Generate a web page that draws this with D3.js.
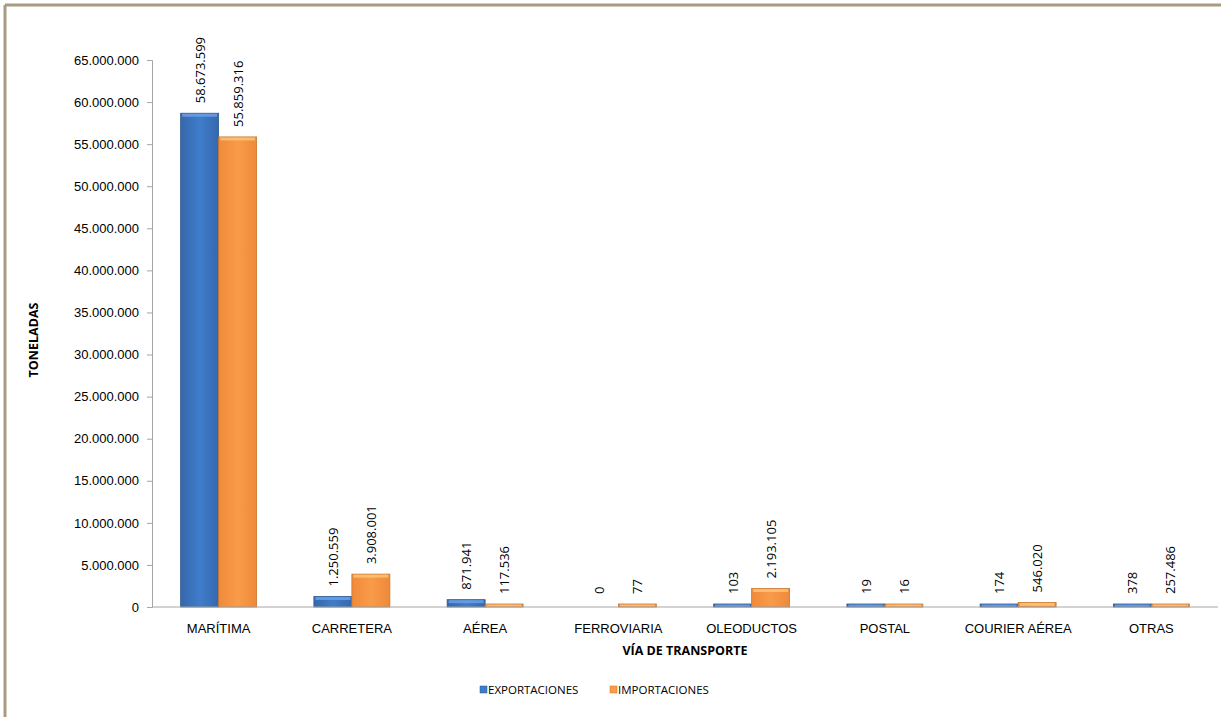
<!DOCTYPE html>
<html>
<head>
<meta charset="utf-8">
<script src="https://cdn.jsdelivr.net/npm/d3@7"></script>
<style>
  body { margin: 0; background: #fff; }
  svg { font-family: "Open Sans", "Liberation Sans", sans-serif; }
</style>
</head>
<body>
<div id="chart"></div>
<script>
// data
var categories = ["MARÍTIMA", "CARRETERA", "AÉREA", "FERROVIARIA", "OLEODUCTOS", "POSTAL", "COURIER AÉREA", "OTRAS"];
var exportaciones = [58673599, 1250559, 871941, 0, 103, 19, 174, 378];
var importaciones = [55859316, 3908001, 117536, 77, 2193105, 16, 546020, 257486];
var seriesNames = ["EXPORTACIONES", "IMPORTACIONES"];
var yTicks = [0, 5000000, 10000000, 15000000, 20000000, 25000000, 30000000, 35000000, 40000000, 45000000, 50000000, 55000000, 60000000, 65000000];

var W = 1221, H = 717;
var margin = {top: 60, right: 3, bottom: 110, left: 152};
var width = W - margin.left - margin.right,
    height = H - margin.top - margin.bottom;

var svg = d3.select("#chart").append("svg")
  .attr("width", W).attr("height", H);

// frame of the chart (only top and left visible)
svg.append("line").attr("x1", 5).attr("x2", W).attr("y1", 5).attr("y2", 5)
  .attr("stroke", "#A89C80").attr("stroke-width", 3);
svg.append("line").attr("x1", 5).attr("x2", 5).attr("y1", 5).attr("y2", H)
  .attr("stroke", "#A89C80").attr("stroke-width", 3);

var defs = svg.append("defs");
function grad(id, c1, c2, c3) {
  var g = defs.append("linearGradient").attr("id", id)
    .attr("x1", "0").attr("x2", "1").attr("y1", "0").attr("y2", "0");
  g.append("stop").attr("offset", "0%").attr("stop-color", c1);
  g.append("stop").attr("offset", "50%").attr("stop-color", c2);
  g.append("stop").attr("offset", "100%").attr("stop-color", c3);
}
grad("gBlue", "#3567AA", "#3F7DCB", "#3468AE");
grad("gOrange", "#F08A3A", "#F99B4A", "#EE8A3A");
var colors = ["url(#gBlue)", "url(#gOrange)"];
var strokes = ["#2C5790", "#C8762E"];
var tops = ["#6FA3E6", "#FFC67A"];
var legendColors = ["#3F7DCB", "#F99B4A"];

var g = svg.append("g").attr("transform", "translate(" + margin.left + "," + margin.top + ")");

var x = d3.scaleBand().domain(categories).range([0, width]).paddingInner(0.43).paddingOuter(0.215);
var x1 = d3.scaleBand().domain([0, 1]).range([0, x.bandwidth()]);
var y = d3.scaleLinear().domain([0, 65000000]).range([height, 0]);

var fmt = function(v) { return d3.format(",")(v).replace(/,/g, "."); };

// y axis
var yAx = g.append("g")
  .call(d3.axisLeft(y).tickValues(yTicks).tickFormat(fmt).tickSize(5).tickPadding(8));
yAx.select(".domain").attr("stroke", "#A6A6A6");
yAx.selectAll(".tick line").attr("stroke", "#A6A6A6");
yAx.selectAll("text").style("font-size", "13px").attr("fill", "#000");

// bars
var data = categories.map(function(c, i) {
  return {cat: c, vals: [exportaciones[i], importaciones[i]]};
});
var groups = g.selectAll(".grp").data(data).enter().append("g")
  .attr("transform", function(d) { return "translate(" + x(d.cat) + ",0)"; });

groups.each(function(d) {
  var sel = d3.select(this);
  d.vals.forEach(function(v, s) {
    var yt = y(v);
    var h = height - yt;
    if (v > 0 && h < 3) { h = 3; yt = height - 3; }
    if (v > 0) {
      sel.append("rect")
        .attr("x", x1(s)).attr("y", yt)
        .attr("width", x1.bandwidth()).attr("height", h)
        .attr("fill", colors[s]).attr("stroke", strokes[s]).attr("stroke-width", 0.8);
      sel.append("rect")
        .attr("x", x1(s) + 1.5).attr("y", yt + 0.5)
        .attr("width", x1.bandwidth() - 3).attr("height", Math.min(3, h - 1))
        .attr("fill", tops[s]).attr("opacity", 0.8);
    }
    // value label
    var lx = x1(s) + x1.bandwidth() / 2 + 5;
    var ly = Math.min(y(v), height - 3) - 10;
    sel.append("text")
      .attr("transform", "translate(" + lx + "," + ly + ") rotate(-90)")
      .attr("text-anchor", "start")
      .style("font-size", "13px")
      .text(fmt(v));
  });
});

// x axis
var xAx = g.append("g").attr("transform", "translate(0," + height + ")")
  .call(d3.axisBottom(x).tickSize(0).tickPadding(17));
xAx.select(".domain").attr("stroke", "#A6A6A6").attr("d", "M0,0H" + width);
xAx.selectAll("text").style("font-size", "13px").attr("fill", "#000");

// axis titles
svg.append("text")
  .attr("x", margin.left + width / 2).attr("y", 655)
  .attr("text-anchor", "middle")
  .style("font-size", "12.5px").style("font-weight", "bold")
  .text("VÍA DE TRANSPORTE");
svg.append("text")
  .attr("transform", "translate(38," + 340 + ") rotate(-90)")
  .attr("text-anchor", "middle")
  .style("font-size", "12.5px").style("font-weight", "bold")
  .text("TONELADAS");

// legend
var legendX = [480, 610];
seriesNames.forEach(function(n, i) {
  svg.append("rect").attr("x", legendX[i]).attr("y", 686)
    .attr("width", 7).attr("height", 7).attr("fill", legendColors[i])
    .attr("stroke", strokes[i]).attr("stroke-width", 0.5);
  svg.append("text").attr("x", legendX[i] + 8).attr("y", 694)
    .style("font-size", "11.5px").text(n);
});
</script>
</body>
</html>
